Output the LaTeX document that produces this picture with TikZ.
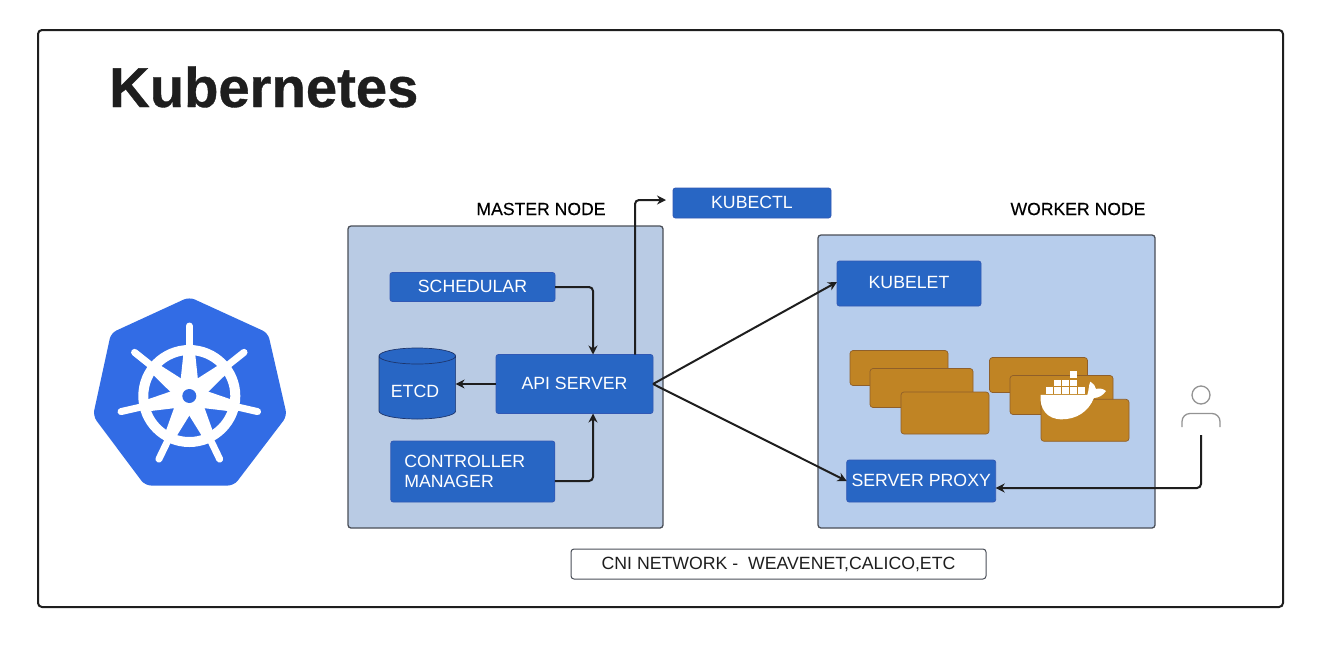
\documentclass[tikz,border=0pt]{standalone}
\usepackage{fontspec}
\setmainfont{Liberation Sans}
\newfontfamily\capfont[FakeBold=0.25]{Liberation Sans}
\newfontfamily\titlefont[BoldFeatures={FakeBold=0.6}]{Liberation Sans}
\usetikzlibrary{arrows.meta,shapes.geometric}
\definecolor{nodeblue}{HTML}{2866C4}
\definecolor{nodeedge}{HTML}{3158B4}
\definecolor{k8sblue}{HTML}{326CE5}
\definecolor{masterfill}{HTML}{B9CBE4}
\definecolor{workerfill}{HTML}{B7CDEC}
\definecolor{brick}{HTML}{C08424}
\definecolor{brickedge}{HTML}{8F5F2A}
\definecolor{ink}{HTML}{1E1E1E}
\definecolor{panelline}{HTML}{4A4F58}
\newcommand{\up}[2]{\raisebox{#1pt}{#2}}
\tikzset{
  x=1pt,y=-1pt,
  bluebox/.style={draw=nodeedge,fill=nodeblue,text=white,rounded corners=2.5pt,line width=.8pt,inner sep=0pt,outer sep=0pt,font=\fontsize{17.7}{20}\selectfont},
  panel/.style={draw=panelline,rounded corners=3pt,line width=1.3pt,inner sep=0pt,outer sep=0pt},
  brickbox/.style={draw=brickedge,fill=brick,rounded corners=3pt,line width=.7pt,inner sep=0pt,outer sep=0pt},
  caption/.style={text=black,inner sep=0pt,font=\capfont\fontsize{17.6}{20}\selectfont},
  link/.style={draw=ink,line width=2pt,rounded corners=4pt,-{Stealth[length=9pt,width=9pt]}},
  handle/.style={white,line width=7pt,line cap=round},
}
\begin{document}
\begin{tikzpicture}
\useasboundingbox (0,0) rectangle (1326,646);
\fill[white] (0,0) rectangle (1326,646);
\draw[ink,line width=2pt,rounded corners=4pt] (38,30) rectangle (1283,607);
\node[anchor=base west,text=ink,inner sep=0pt,font=\titlefont\fontsize{56.2}{60}\selectfont\bfseries] (title) at (109,107) {Kubernetes};

% Kubernetes logo
\fill[k8sblue,rounded corners=6pt] (189.3,297) -- (268,333) -- (287,416) -- (234,485.5) -- (145,485.5) -- (93,416) -- (111,333) -- cycle;
\draw[white,line width=10pt] (189.3,396) circle[radius=46];
\foreach \a in {90,141.43,192.86,244.29,295.71,347.14,398.57}{
  \fill[white] ({189.3+13*cos(\a)-9*sin(\a)},{396-13*sin(\a)-9*cos(\a)})
    -- ({189.3+46*cos(\a)-5.5*sin(\a)},{396-46*sin(\a)-5.5*cos(\a)})
    -- ({189.3+46*cos(\a)+5.5*sin(\a)},{396-46*sin(\a)+5.5*cos(\a)})
    -- ({189.3+13*cos(\a)+9*sin(\a)},{396-13*sin(\a)+9*cos(\a)}) -- cycle;
  \draw[handle] ({189.3+48*cos(\a)},{396-48*sin(\a)}) -- ({189.3+70*cos(\a)},{396-70*sin(\a)});
}
\fill[white] (189.3,396) circle[radius=16];
\fill[k8sblue] (189.3,396) circle[radius=7];

% Panels
\node[panel,fill=masterfill,minimum width=315pt,minimum height=302pt] (master) at (505.5,377) {};
\node[panel,fill=workerfill,minimum width=337pt,minimum height=293pt] (worker) at (986.5,381.5) {};
\node[caption] (masterlabel) at (541,209) {MASTER NODE};
\node[caption] (workerlabel) at (1078,209) {WORKER NODE};

% Master node contents
\node[bluebox,minimum width=158pt,minimum height=30pt] (kubectl) at (752,203) {\up{1}{KUBECTL}};
\node[bluebox,minimum width=165pt,minimum height=29pt] (schedular) at (472.5,287) {\up{1}{SCHEDULAR}};
\node[bluebox,minimum width=157pt,minimum height=59pt] (api) at (574.5,384) {\up{2}{API SERVER}};
\node[bluebox,minimum width=164pt,minimum height=61pt,align=left,text width=137pt] (controller) at (472.8,471.5) {CONTROLLER\\MANAGER};
\fill[nodeblue] (379,356) -- (379,411) arc[start angle=180,end angle=0,x radius=38.3,y radius=8] -- (455.6,356) arc[start angle=0,end angle=-180,x radius=38.3,y radius=8] -- cycle;
\draw[nodeedge!60!black,line width=.7pt] (379,356) -- (379,411) arc[start angle=180,end angle=0,x radius=38.3,y radius=8] -- (455.6,356) arc[start angle=0,end angle=-180,x radius=38.3,y radius=8] -- cycle (379,356) arc[start angle=180,end angle=0,x radius=38.3,y radius=8];
\node[text=white,inner sep=0pt,outer sep=0pt,minimum width=76.6pt,minimum height=71pt,font=\fontsize{17.7}{20}\selectfont] (etcd) at (417.3,383.5) {};
\node[text=white,inner sep=0pt,font=\fontsize{17.7}{20}\selectfont] (etcdlabel) at (415,391) {ETCD};

% Worker node contents
\node[bluebox,minimum width=144pt,minimum height=45pt] (kubelet) at (909,283.5) {\up{1.5}{KUBELET}};
\node[bluebox,minimum width=149pt,minimum height=42pt] (proxy) at (921.2,481) {\up{2}{SERVER PROXY}};
\node[brickbox,minimum width=98pt,minimum height=35pt] (b1) at (899,368) {};
\node[brickbox,minimum width=103pt,minimum height=39pt] (b2) at (921.5,388) {};
\node[brickbox,minimum width=88pt,minimum height=42pt] (b3) at (945,413) {};
\node[brickbox,minimum width=98pt,minimum height=35pt] (b4) at (1038.5,375) {};
\node[brickbox,minimum width=103pt,minimum height=39pt] (b5) at (1061.5,395) {};
\node[brickbox,minimum width=88pt,minimum height=42pt] (b6) at (1085,420.3) {};

% Docker whale
\begin{scope}[shift={(830,330)},x=.3333pt,y=-.3333pt]
  \fill[white] (632,195) -- (772,195) .. controls (777,180) and (776,165) .. (781,155)
    .. controls (790,160) and (797,168) .. (798,177)
    .. controls (808,174) and (820,176) .. (828,183)
    .. controls (818,198) and (805,203) .. (792,204)
    .. controls (775,245) and (740,268) .. (695,268)
    .. controls (650,268) and (628,235) .. (632,195) -- cycle;
  \foreach \px in {648,672,696,720,744}{\fill[white] (\px,172) rectangle ++(21,19);}
  \foreach \px in {672,696,720}{\fill[white] (\px,150) rectangle ++(21,19);}
  \fill[white] (720,124) rectangle ++(21,21);
\end{scope}

% Person
\coordinate (userfoot) at (1201,435);
\draw[gray!85,line width=1.3pt] (1201,395) circle[radius=9];
\draw[gray!85,line width=1.3pt,rounded corners=8pt] (1182,427) -- (1182,413.5) -- (1220,413.5) -- (1220,427);

% CNI bar
\node[draw=panelline,fill=white,rounded corners=3pt,line width=1pt,inner sep=0pt,minimum width=415pt,minimum height=30pt,text=ink,font=\fontsize{17.7}{20}\selectfont] (cni) at (778.5,564) {\up{-1}{CNI NETWORK -\ \ WEAVENET,CALICO,ETC}};

% Connectors
\draw[link,shorten >=7pt] ([xshift=60.5pt]api.north) |- ([yshift=3pt]kubectl.west);
\draw[link] (schedular.east) -| ([xshift=18.5pt]api.north);
\draw[link] ([yshift=-9.5pt]controller.east) -| ([xshift=18.5pt]api.south);
\draw[link] (api.west) -- (etcd.east |- api.west);
\draw[link,rounded corners=0pt] (api.east) -- ([yshift=1.5pt]kubelet.west);
\draw[link,rounded corners=0pt] (api.east) -- (proxy.west);
\draw[link] (userfoot) |- ([yshift=-7pt]proxy.east);
\end{tikzpicture}
\end{document}
